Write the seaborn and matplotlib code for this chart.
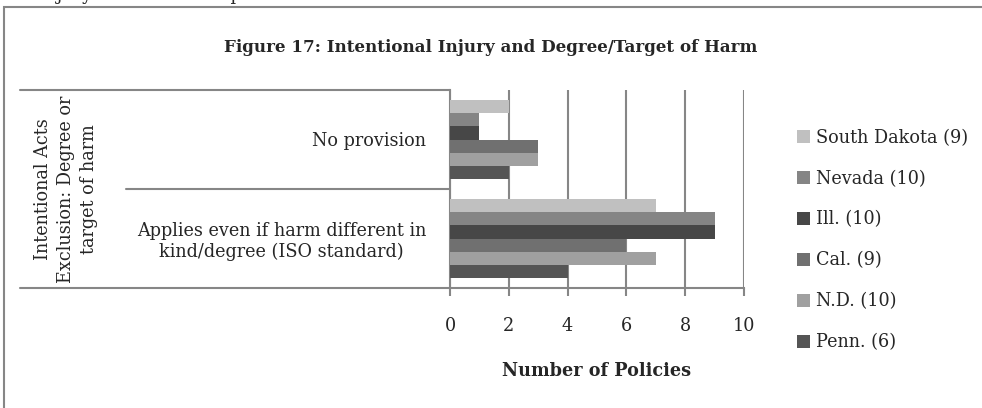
import pandas as pd
import matplotlib
matplotlib.use("Agg")
import matplotlib.pyplot as plt
import seaborn as sns
from matplotlib.patches import Rectangle
from matplotlib.lines import Line2D

# Dados do gráfico
categories = ["No provision", "Applies even if harm different in\nkind/degree (ISO standard)"]
states = ["South Dakota (9)", "Nevada (10)", "Ill. (10)", "Cal. (9)", "N.D. (10)", "Penn. (6)"]
no_provision = [2, 1, 1, 3, 3, 2]
applies_even = [7, 9, 9, 6, 7, 4]
colors = ["#c0c0c0", "#858585", "#474747", "#707070", "#a0a0a0", "#555555"]
x_ticks = [0, 2, 4, 6, 8, 10]

rows = []
for state, v1, v2 in zip(states, no_provision, applies_even):
    rows.append({"Category": categories[0], "State": state, "Policies": v1})
    rows.append({"Category": categories[1], "State": state, "Policies": v2})
df = pd.DataFrame(rows)

sns.set_style("white")
plt.rcParams["font.family"] = ["DejaVu Serif"]
fs = 12.7

fig = plt.figure(figsize=(9.82, 4.08), dpi=100)
ax = fig.add_axes([450 / 982, 120 / 408, 294 / 982, 198 / 408])

sns.barplot(data=df, y="Category", x="Policies", hue="State", order=categories,
            hue_order=states, palette=colors, orient="h", width=0.8,
            edgecolor="none", linewidth=0, ax=ax, zorder=3)

ax.set_xlim(0, 10)
ax.set_xticks(x_ticks)
ax.xaxis.grid(True, color="#868686", linewidth=1.5, zorder=0)
ax.yaxis.grid(False)
for s in ["top", "right"]:
    ax.spines[s].set_visible(False)
for s in ["left", "bottom"]:
    ax.spines[s].set_color("#868686")
    ax.spines[s].set_linewidth(1.5)
ax.tick_params(axis="x", length=6, width=1.5, color="#868686", pad=15,
               labelsize=fs, bottom=True)
ax.tick_params(axis="y", length=0, pad=17, labelsize=fs)
for lab in ax.get_yticklabels():
    lab.set_multialignment("center")
ax.set_ylabel("")
ax.set_xlabel("Number of Policies", fontsize=fs, fontweight="bold", labelpad=19)

# Linhas da tabela de categorias
for y0, x0 in [(1.0, (20 - 450) / 294), (0.5, (126 - 450) / 294), (0.0, (20 - 450) / 294)]:
    ax.add_line(Line2D([x0, 0], [y0, y0], transform=ax.transAxes, color="#868686",
                       linewidth=1.5, clip_on=False))

fig.text(66 / 982, (408 - 189) / 408, "Intentional Acts\nExclusion: Degree or\ntarget of harm",
         rotation=90, ha="center", va="center", fontsize=fs, linespacing=1.38)

handles, labels = ax.get_legend_handles_labels()
ax.legend(handles, labels, loc="center left", bbox_to_anchor=(797 / 982, (408 - 240) / 408),
          bbox_transform=fig.transFigure, frameon=False, fontsize=fs, borderpad=0,
          borderaxespad=0, handlelength=0.75, handleheight=0.75, handletextpad=0.3,
          labelspacing=1.3)

fig.text(491 / 982, (408 - 47) / 408, "Figure 17: Intentional Injury and Degree/Target of Harm",
         ha="center", va="center", fontsize=12.1, fontweight="bold")

fig.text(0, 1.012, "hen Injury Intended or Expected", ha="left", va="center", fontsize=fs)

fig.patches.append(Rectangle((4 / 982, -0.1), 1.1, 1.1 - 7 / 408, transform=fig.transFigure,
                             fill=False, edgecolor="#868686", linewidth=1.5))

fig.savefig("out.png", dpi=100)
